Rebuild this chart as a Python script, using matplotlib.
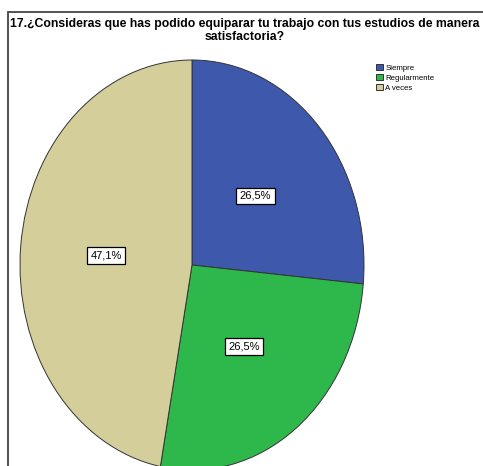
import matplotlib.pyplot as plt
from matplotlib.patches import Rectangle

plt.rcParams['font.family'] = ['Liberation Sans', 'DejaVu Sans']

# datos
categorias = ["Siempre", "Regularmente", "A veces"]
frecuencias = [9, 9, 16]
colores = ["#3E58AC", "#2EB84B", "#D4CF9A"]
titulo = "17.¿Consideras que has podido equiparar tu trabajo con tus estudios de manera\nsatisfactoria?"

W, H = 483, 466
fig = plt.figure(figsize=(W / 100, H / 100), dpi=100)

# marco exterior (se sale por la derecha y por abajo)
fig.patches.append(Rectangle((8 / W, -0.05), 1.0, 1 - 12 / H + 0.05,
                             transform=fig.transFigure, fill=False,
                             ec="#444444", lw=1.3))

fig.text(245 / W, 1 - 30.5 / H, titulo, ha="center", va="center",
         fontsize=8.85, fontweight="bold", linespacing=1.1)

# elipse: centro (192, 265), radios 172 x 205 px
lim = 1.02
cx, cy, rx, ry = 192, 265, 172, 205
ax = fig.add_axes([(cx - rx * lim) / W, (H - cy - ry * lim) / H,
                   2 * rx * lim / W, 2 * ry * lim / H])


def fmt(p):
    return f"{p:.1f}%".replace(".", ",")


wedges, textos, pcts = ax.pie(frecuencias, colors=colores, startangle=90,
                              counterclock=False, autopct=fmt, pctdistance=0.5,
                              wedgeprops=dict(edgecolor="#333333", linewidth=0.7))
for t in pcts:
    t.set_fontsize(8)
    t.set_bbox(dict(boxstyle="square,pad=0.3", fc="white", ec="black", lw=0.9))

ax.set_xlim(-lim, lim)
ax.set_ylim(-lim, lim)
ax.set_aspect("auto")
ax.axis("off")

fig.legend(wedges, categorias, loc="upper left",
           bbox_to_anchor=(376 / W, 1 - 64 / H), frameon=False,
           fontsize=5.6, handlelength=0.9, handleheight=0.9,
           handletextpad=0.3, labelspacing=0.25, borderpad=0, borderaxespad=0)

fig.savefig("out.png", dpi=100)
